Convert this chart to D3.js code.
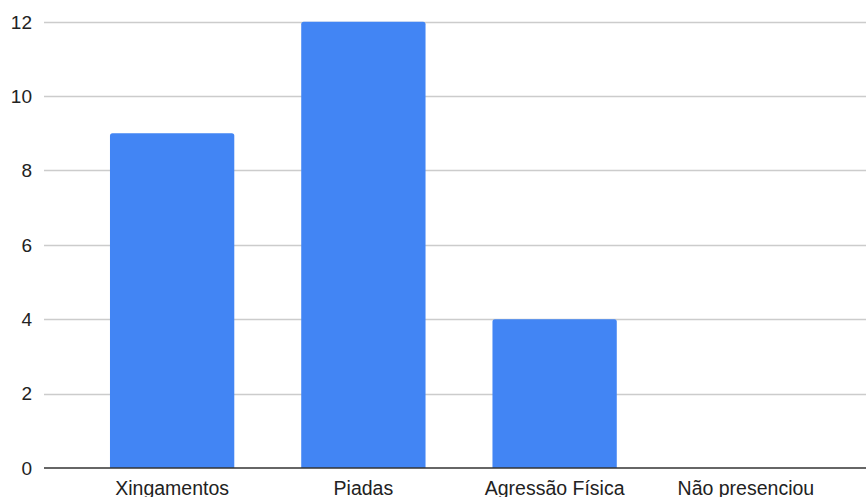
<!DOCTYPE html>
<html>
<head>
<meta charset="utf-8">
<script src="https://cdn.jsdelivr.net/npm/d3@7"></script>
<style>
  html, body { margin: 0; padding: 0; background: #fff; }
  svg { display: block; }
</style>
</head>
<body>
<div id="chart"></div>
<script>
const categories = ['Xingamentos', 'Piadas', 'Agressão Física', 'Não presenciou'];
const values = [9, 12, 4, 0];
const yTicks = [0, 2, 4, 6, 8, 10, 12];

const width = 866, height = 497;
const svg = d3.select('#chart').append('svg')
  .attr('width', width).attr('height', height);

const x = d3.scaleBand()
  .domain(categories)
  .range([44, 874])
  .paddingInner(0.35)
  .paddingOuter(0.345);

const y = d3.scaleLinear()
  .domain([0, 12])
  .range([468, 21.7]);

const font = '"Liberation Sans", Arial, sans-serif';

// gridlines
svg.append('g')
  .selectAll('line')
  .data(yTicks.filter(d => d !== 0))
  .enter().append('line')
    .attr('x1', 44).attr('x2', width)
    .attr('y1', d => Math.round(y(d)) + 0.5).attr('y2', d => Math.round(y(d)) + 0.5)
    .attr('stroke', '#cccccc')
    .attr('stroke-width', 1.3);

// y tick labels
svg.append('g')
  .selectAll('text')
  .data(yTicks)
  .enter().append('text')
    .attr('x', 32)
    .attr('y', d => y(d))
    .attr('dy', '0.36em')
    .attr('text-anchor', 'end')
    .attr('font-family', font)
    .attr('font-size', 19)
    .attr('fill', '#222')
    .text(d => d);

// bars, rounded top corners
const r = 2.5;
svg.append('g')
  .selectAll('path')
  .data(values.map((v, i) => ({cat: categories[i], v})).filter(d => d.v > 0))
  .enter().append('path')
    .attr('fill', '#4285f4')
    .attr('d', d => {
      const x0 = x(d.cat), x1 = x0 + x.bandwidth();
      const y0 = y(0), y1 = y(d.v);
      return `M${x0},${y0}V${y1 + r}Q${x0},${y1} ${x0 + r},${y1}H${x1 - r}Q${x1},${y1} ${x1},${y1 + r}V${y0}Z`;
    });

// baseline
svg.append('line')
  .attr('x1', 44).attr('x2', width)
  .attr('y1', y(0)).attr('y2', y(0))
  .attr('stroke', '#333')
  .attr('stroke-width', 1.5);

// x labels
svg.append('g')
  .selectAll('text')
  .data(categories)
  .enter().append('text')
    .attr('x', d => x(d) + x.bandwidth() / 2)
    .attr('y', 494.5)
    .attr('text-anchor', 'middle')
    .attr('font-family', font)
    .attr('font-size', 19.5)
    .attr('fill', '#222')
    .text(d => d);
</script>
</body>
</html>
